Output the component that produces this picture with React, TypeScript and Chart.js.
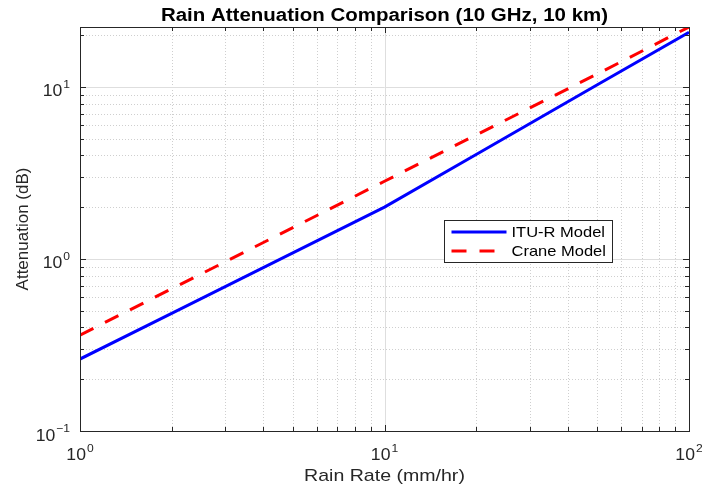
import React, { useEffect, useRef } from 'react';
import { Chart, registerables } from 'chart.js';

Chart.register(...registerables);

// ---- data ----
const rainRates = [1, 2, 5, 10, 20, 50, 100];
const ituAttenuation = [0.262, 0.483, 1.085, 2.0, 4.05, 10.3, 20.8];
const craneAttenuation = [0.361, 0.671, 1.52, 2.83, 5.26, 11.9, 22.3];
const seriesLabels = ['ITU-R Model', 'Crane Model'];
const xTickExponents = [0, 1, 2];
const yTickExponents = [-1, 0, 1];
const chartTitle = 'Rain Attenuation Comparison (10 GHz, 10 km)';
const xAxisTitle = 'Rain Rate (mm/hr)';
const yAxisTitle = 'Attenuation (dB)';
const xMin = 1;
const xMax = 100;
const yMin = 0.1;
const yMax = 22.3;

const FONT = '"Liberation Sans", Arial, Helvetica, sans-serif';
const SX = 1.1; // horizontal text stretch of the reference
const AXIS_COLOR = '#262626';

function stretchedText(ctx: CanvasRenderingContext2D, text: string, x: number, y: number, align: CanvasTextAlign, sx: number = SX) {
  ctx.save();
  ctx.translate(x, y);
  ctx.scale(sx, 1);
  ctx.textAlign = align;
  ctx.fillText(text, 0, 0);
  ctx.restore();
}

function gridValues(min: number, max: number) {
  const out: { v: number; major: boolean }[] = [];
  const d0 = Math.floor(Math.log10(min));
  const d1 = Math.ceil(Math.log10(max));
  for (let d = d0; d <= d1; d++) {
    for (let m = 1; m <= 9; m++) {
      const v = m * Math.pow(10, d);
      if (v >= min * 0.999 && v <= max * 1.001) out.push({ v, major: m === 1 });
    }
  }
  return out;
}

function drawPowerLabel(ctx: CanvasRenderingContext2D, exp: number, x: number, y: number, align: 'center' | 'right') {
  const baseFont = `16px ${FONT}`;
  const expFont = `11px ${FONT}`;
  ctx.font = baseFont;
  const bw = ctx.measureText('10').width * SX;
  ctx.font = expFont;
  const es = String(exp).replace('-', '\u2212');
  const ew = ctx.measureText(es).width * SX;
  const total = bw + 1 + ew;
  const left = align === 'center' ? x - total / 2 : x - total;
  ctx.fillStyle = AXIS_COLOR;
  ctx.textBaseline = 'alphabetic';
  ctx.font = baseFont;
  stretchedText(ctx, '10', left, y, 'left');
  ctx.font = expFont;
  stretchedText(ctx, es, left + bw + 1, y - 8.5, 'left');
}

const matlabPlugin = {
  id: 'matlabAxes',
  beforeDatasetsDraw(chart: any) {
    const { ctx, chartArea: a, scales } = chart;
    const xs = scales.x, ys = scales.y;
    ctx.save();
    ctx.lineWidth = 1;
    // minor grid (dotted)
    ctx.setLineDash([1, 2]);
    ctx.strokeStyle = '#cfcfcf';
    for (const g of gridValues(xMin, xMax)) {
      if (g.major) continue;
      const px = Math.round(xs.getPixelForValue(g.v)) + 0.5;
      ctx.beginPath(); ctx.moveTo(px, a.top); ctx.lineTo(px, a.bottom); ctx.stroke();
    }
    for (const g of gridValues(yMin, yMax)) {
      if (g.major) continue;
      const py = Math.round(ys.getPixelForValue(g.v)) + 0.5;
      ctx.beginPath(); ctx.moveTo(a.left, py); ctx.lineTo(a.right, py); ctx.stroke();
    }
    // major grid (solid)
    ctx.setLineDash([]);
    ctx.strokeStyle = '#dedede';
    for (const g of gridValues(xMin, xMax)) {
      if (!g.major) continue;
      const px = Math.round(xs.getPixelForValue(g.v)) + 0.5;
      ctx.beginPath(); ctx.moveTo(px, a.top); ctx.lineTo(px, a.bottom); ctx.stroke();
    }
    for (const g of gridValues(yMin, yMax)) {
      if (!g.major) continue;
      const py = Math.round(ys.getPixelForValue(g.v)) + 0.5;
      ctx.beginPath(); ctx.moveTo(a.left, py); ctx.lineTo(a.right, py); ctx.stroke();
    }
    ctx.restore();
  },
  afterDatasetsDraw(chart: any) {
    const { ctx, chartArea: a, scales } = chart;
    const xs = scales.x, ys = scales.y;
    ctx.save();
    ctx.strokeStyle = AXIS_COLOR;
    ctx.lineWidth = 1;
    // ticks (inward, all four sides)
    for (const g of gridValues(xMin, xMax)) {
      const px = Math.round(xs.getPixelForValue(g.v)) + 0.5;
      const len = g.major ? 6 : 4;
      ctx.beginPath();
      ctx.moveTo(px, a.bottom); ctx.lineTo(px, a.bottom - len);
      ctx.moveTo(px, a.top); ctx.lineTo(px, a.top + len);
      ctx.stroke();
    }
    for (const g of gridValues(yMin, yMax)) {
      const py = Math.round(ys.getPixelForValue(g.v)) + 0.5;
      const len = g.major ? 6 : 4;
      ctx.beginPath();
      ctx.moveTo(a.left, py); ctx.lineTo(a.left + len, py);
      ctx.moveTo(a.right, py); ctx.lineTo(a.right - len, py);
      ctx.stroke();
    }
    // frame
    ctx.strokeRect(Math.round(a.left) + 0.5, Math.round(a.top) + 0.5,
      Math.round(a.right - a.left), Math.round(a.bottom - a.top));

    // tick labels
    for (const e of xTickExponents) {
      const px = xs.getPixelForValue(Math.pow(10, e));
      drawPowerLabel(ctx, e, px, a.bottom + 29, 'center');
    }
    for (const e of yTickExponents) {
      const py = ys.getPixelForValue(Math.pow(10, e));
      drawPowerLabel(ctx, e, a.left - 10, py + 9.5, 'right');
    }

    // title
    ctx.fillStyle = '#000000';
    ctx.font = `bold 17.5px ${FONT}`;
    ctx.textBaseline = 'alphabetic';
    stretchedText(ctx, chartTitle, (a.left + a.right) / 2, 21, 'center', 1.17);

    // axis titles
    ctx.fillStyle = AXIS_COLOR;
    ctx.font = `17px ${FONT}`;
    stretchedText(ctx, xAxisTitle, (a.left + a.right) / 2, 481, 'center', 1.15);
    ctx.save();
    ctx.translate(28, (a.top + a.bottom) / 2);
    ctx.rotate(-Math.PI / 2);
    ctx.textAlign = 'center';
    ctx.font = `17px ${FONT}`;
    ctx.fillText(yAxisTitle, 0, 0);
    ctx.restore();

    // legend
    const lx = 444.5, ly = 220.5, lw = 168, lh = 42;
    ctx.fillStyle = '#ffffff';
    ctx.fillRect(lx, ly, lw, lh);
    ctx.strokeStyle = AXIS_COLOR;
    ctx.lineWidth = 1;
    ctx.strokeRect(lx, ly, lw, lh);
    chart.data.datasets.forEach((ds: any, i: number) => {
      const y = ly + 11.5 + i * 19;
      ctx.save();
      ctx.strokeStyle = ds.borderColor;
      ctx.lineWidth = ds.borderWidth;
      ctx.setLineDash(ds.borderDash || []);
      ctx.beginPath(); ctx.moveTo(lx + 7, y); ctx.lineTo(lx + 62, y); ctx.stroke();
      ctx.restore();
      ctx.fillStyle = '#000000';
      ctx.font = `15px ${FONT}`;
      ctx.textBaseline = 'middle';
      stretchedText(ctx, ds.label, lx + 67, y + 1, 'left');
    });
    ctx.restore();
  },
};

export default function App() {
  const ref = useRef<HTMLCanvasElement | null>(null);
  useEffect(() => {
    if (!ref.current) return;
    const chart = new Chart(ref.current, {
      type: 'line',
      data: {
        datasets: [
          {
            label: seriesLabels[0],
            data: rainRates.map((r, i) => ({ x: r, y: ituAttenuation[i] })),
            borderColor: '#0000ff',
            borderWidth: 3,
            pointRadius: 0,
            fill: false,
            tension: 0,
          },
          {
            label: seriesLabels[1],
            data: rainRates.map((r, i) => ({ x: r, y: craneAttenuation[i] })),
            borderColor: '#ff0000',
            borderWidth: 3,
            borderDash: [15, 13],
            pointRadius: 0,
            fill: false,
            tension: 0,
          },
        ],
      },
      options: {
        responsive: false,
        animation: false,
        devicePixelRatio: 1,
        layout: { padding: { left: 80, right: 13, top: 27, bottom: 59 } },
        scales: {
          x: { type: 'logarithmic', min: xMin, max: xMax, display: false },
          y: { type: 'logarithmic', min: yMin, max: yMax, display: false },
        },
        plugins: {
          legend: { display: false },
          title: { display: false },
          tooltip: { enabled: false },
        },
      },
      plugins: [matlabPlugin],
    });
    return () => chart.destroy();
  }, []);
  return (
    <div style={{ position: 'absolute', left: 0, top: 0, width: 702, height: 490, background: '#ffffff' }}>
      <canvas ref={ref} width={702} height={490} style={{ display: 'block' }} />
    </div>
  );
}
